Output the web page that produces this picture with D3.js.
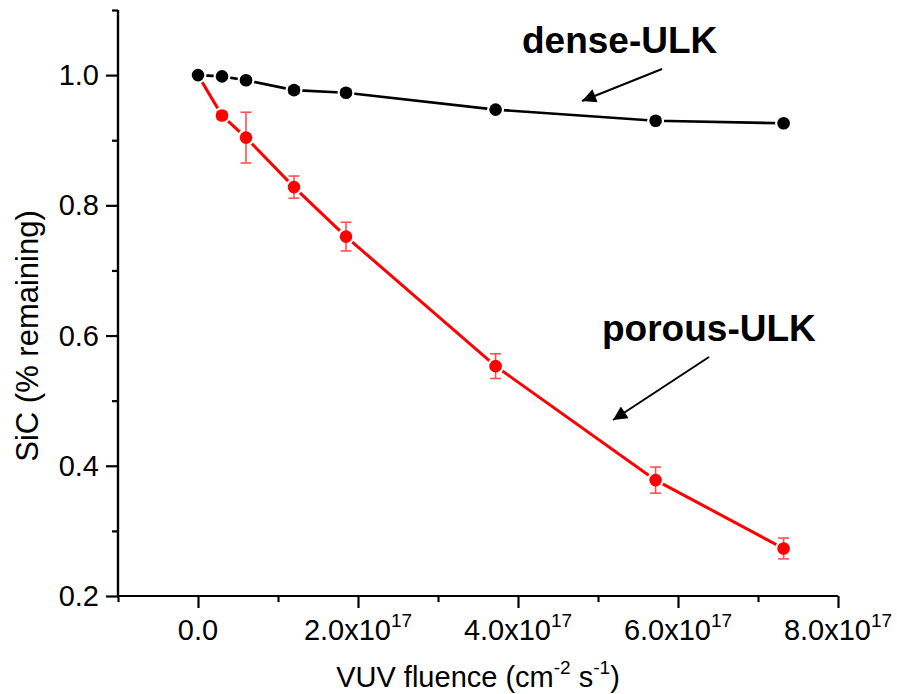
<!DOCTYPE html>
<html>
<head>
<meta charset="utf-8">
<script src="https://cdn.jsdelivr.net/npm/d3@7"></script>
<style>
  html, body { margin: 0; padding: 0; background: #fff; }
  svg { display: block; font-family: "Liberation Sans", Arial, Helvetica, sans-serif; }
</style>
</head>
<body>
<svg id="chart" width="897" height="694"></svg>
<script>
// ---- data ----
const fluence = [0, 0.3e17, 0.6e17, 1.2e17, 1.85e17, 3.72e17, 5.72e17, 7.32e17];
const dense = [1.0, 0.998, 0.992, 0.977, 0.973, 0.947, 0.930, 0.926];
const denseErr = [0, 0.002, 0.003, 0.005, 0.004, 0.003, 0.003, 0.002];
const porous = [1.0, 0.938, 0.904, 0.828, 0.752, 0.553, 0.378, 0.273];
const porousErr = [0, 0.006, 0.039, 0.017, 0.022, 0.019, 0.020, 0.016];
const xMajorTicks = [0, 2e17, 4e17, 6e17, 8e17];
const xMajorLabels = [["0.0", ""], ["2.0x10", "17"], ["4.0x10", "17"], ["6.0x10", "17"], ["8.0x10", "17"]];
const xMinorTicks = [-1e17, 1e17, 3e17, 5e17, 7e17];
const yMajorTicks = [0.2, 0.4, 0.6, 0.8, 1.0];
const yMinorTicks = [0.3, 0.5, 0.7, 0.9, 1.1];
const xTitle = ["VUV fluence (cm", "-2", " s", "-1", ")"];
const yTitle = "SiC (% remaining)";
const annotations = [
  { text: "dense-ULK", tx: 522, ty: 53, from: [662, 69], to: [582, 101] },
  { text: "porous-ULK", tx: 602, ty: 341, from: [709, 357], to: [613, 420] }
];

// ---- chart ----
const svg = d3.select("#chart");
const x = d3.scaleLinear().domain([-1e17, 8e17]).range([118, 838]);
const y = d3.scaleLinear().domain([0.2, 1.1]).range([596, 10]);

const defs = svg.append("defs");
defs.append("marker")
  .attr("id", "arrow").attr("viewBox", "0 0 10 10")
  .attr("refX", 10).attr("refY", 5)
  .attr("markerWidth", 8.5).attr("markerHeight", 7)
  .attr("markerUnits", "strokeWidth")
  .attr("orient", "auto")
  .append("path").attr("d", "M0,0 L10,5 L0,10 z").attr("fill", "#000");

// axes
const gx = svg.append("g").attr("transform", `translate(0,${y(0.2)})`);
gx.call(d3.axisBottom(x).tickValues(xMinorTicks).tickSize(6).tickFormat(""));
const gxM = svg.append("g").attr("transform", `translate(0,${y(0.2)})`);
gxM.call(d3.axisBottom(x).tickValues(xMajorTicks).tickSize(12).tickFormat(""));
[gx, gxM].forEach(g => {
  g.select(".domain").attr("stroke", "#000").attr("stroke-width", 2.2).attr("d", `M${x(-1e17)},0H${x(8e17)}`);
  g.selectAll(".tick line").attr("stroke", "#000").attr("stroke-width", 2.2);
});
// x tick labels with superscripts
const xl = svg.append("g");
xMajorTicks.forEach((v, i) => {
  const t = xl.append("text")
    .attr("x", x(v)).attr("y", 640)
    .attr("text-anchor", "middle")
    .attr("font-size", 29).attr("fill", "#000");
  t.append("tspan").text(xMajorLabels[i][0]);
  if (xMajorLabels[i][1]) {
    t.append("tspan").attr("dy", -13).attr("font-size", 19).text(xMajorLabels[i][1]);
  }
});

const gy = svg.append("g").attr("transform", `translate(${x(-1e17)},0)`);
gy.call(d3.axisLeft(y).tickValues(yMinorTicks).tickSize(6).tickFormat(""));
const gyM = svg.append("g").attr("transform", `translate(${x(-1e17)},0)`);
gyM.call(d3.axisLeft(y).tickValues(yMajorTicks).tickSize(12).tickPadding(7).tickFormat(d3.format(".1f")));
[gy, gyM].forEach(g => {
  g.select(".domain").attr("stroke", "#000").attr("stroke-width", 2.2).attr("d", `M0,${y(0.2)}V${y(1.1)}`);
  g.selectAll(".tick line").attr("stroke", "#000").attr("stroke-width", 2.2);
});
gyM.selectAll(".tick text").attr("font-size", 29).attr("fill", "#000")
  .attr("font-family", "Liberation Sans, Arial, sans-serif").attr("dy", "0.33em");

// axis titles
const xt = svg.append("text").attr("x", 478).attr("y", 687)
  .attr("text-anchor", "middle").attr("font-size", 29).attr("fill", "#000");
xTitle.forEach((s, i) => {
  const sp = xt.append("tspan").text(s);
  if (i === 1 || i === 3) sp.attr("font-size", 19).attr("dy", -13);
  else if (i === 2 || i === 4) sp.attr("dy", 13);
});
svg.append("text")
  .attr("transform", `translate(38,${336}) rotate(-90)`)
  .attr("text-anchor", "middle").attr("font-size", 31).attr("fill", "#000")
  .text(yTitle);

// series
const pts = (vals, errs) => fluence.map((f, i) => ({ f, v: vals[i], e: errs[i] }));
const denseData = pts(dense, denseErr);
const porousData = pts(porous, porousErr);
const line = d3.line().x(d => x(d.f)).y(d => y(d.v));

function drawSeries(data, color, errColor, lw) {
  const g = svg.append("g");
  g.append("path").datum(data).attr("d", line)
    .attr("fill", "none").attr("stroke", color).attr("stroke-width", lw);
  // white halos to create gaps between line and markers
  g.selectAll(".halo").data(data).join("circle").attr("class", "halo")
    .attr("cx", d => x(d.f)).attr("cy", d => y(d.v)).attr("r", 8.5).attr("fill", "#fff");
  // error bars
  const eb = g.selectAll(".eb").data(data.filter(d => d.e > 0)).join("g").attr("class", "eb")
    .attr("stroke", errColor).attr("stroke-width", 1.6);
  eb.append("line").attr("x1", d => x(d.f)).attr("x2", d => x(d.f))
    .attr("y1", d => y(d.v + d.e)).attr("y2", d => y(d.v - d.e));
  eb.append("line").attr("x1", d => x(d.f) - 5.5).attr("x2", d => x(d.f) + 5.5)
    .attr("y1", d => y(d.v + d.e)).attr("y2", d => y(d.v + d.e));
  eb.append("line").attr("x1", d => x(d.f) - 5.5).attr("x2", d => x(d.f) + 5.5)
    .attr("y1", d => y(d.v - d.e)).attr("y2", d => y(d.v - d.e));
  g.selectAll(".mk").data(data).join("circle").attr("class", "mk")
    .attr("cx", d => x(d.f)).attr("cy", d => y(d.v)).attr("r", 6.3).attr("fill", color);
}
drawSeries(porousData, "#ff0000", "#ff5050", 3);
drawSeries(denseData, "#000000", "#000000", 2.6);

// annotations
annotations.forEach(a => {
  svg.append("text").attr("x", a.tx).attr("y", a.ty)
    .attr("font-size", 37).attr("font-weight", "bold").attr("fill", "#000").text(a.text);
  svg.append("line").attr("x1", a.from[0]).attr("y1", a.from[1])
    .attr("x2", a.to[0]).attr("y2", a.to[1])
    .attr("stroke", "#000").attr("stroke-width", 2).attr("marker-end", "url(#arrow)");
});
</script>
</body>
</html>
